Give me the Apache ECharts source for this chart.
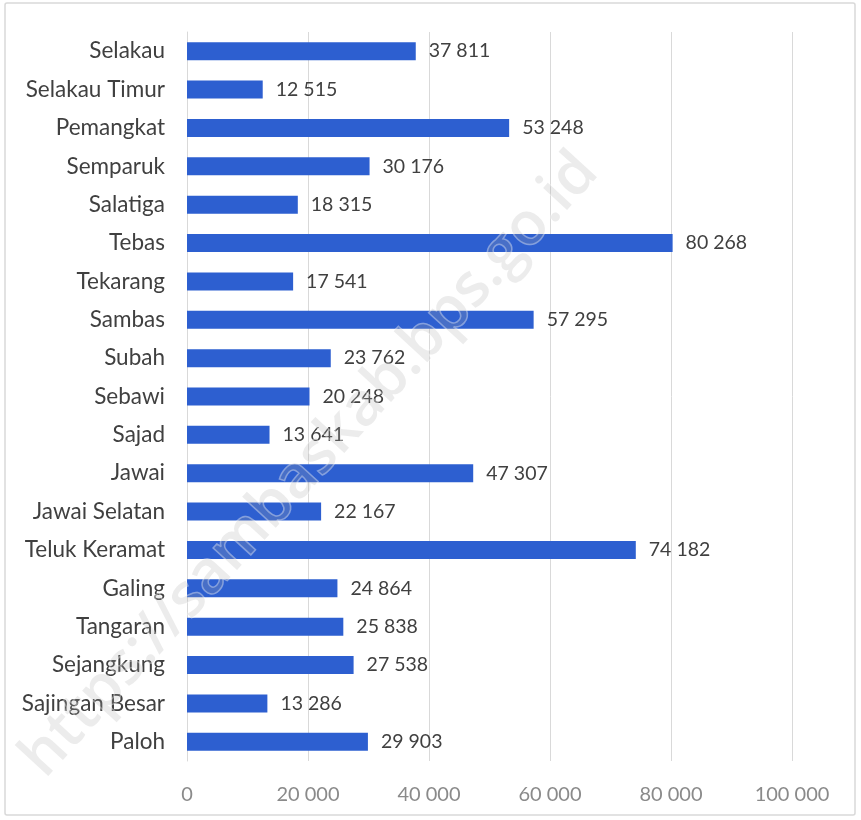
<!DOCTYPE html>
<html>
<head>
<meta charset="utf-8">
<script src="https://cdn.jsdelivr.net/npm/echarts@6/dist/echarts.min.js"></script>
<style>
html,body{margin:0;padding:0;background:#fff;}
#chart{width:861px;height:820px;}
</style>
</head>
<body>
<div id="chart"></div>
<script>
const categories = ["Selakau","Selakau Timur","Pemangkat","Semparuk","Salatiga","Tebas","Tekarang","Sambas","Subah","Sebawi","Sajad","Jawai","Jawai Selatan","Teluk Keramat","Galing","Tangaran","Sejangkung","Sajingan Besar","Paloh"];
const values = [37811,12515,53248,30176,18315,80268,17541,57295,23762,20248,13641,47307,22167,74182,24864,25838,27538,13286,29903];
const tickValues = [0,20000,40000,60000,80000,100000];

function fmt(v){ return String(v).replace(/\B(?=(\d{3})+(?!\d))/g, ' '); }

const chart = echarts.init(document.getElementById('chart'));
const FONT = 'Lato';
chart.setOption({
  backgroundColor: '#fff',
  animation: false,
  graphic: [
    { type: 'rect', z: -10, shape: { x: 5, y: 3, width: 850, height: 812, r: 2 },
      style: { fill: '#fff', stroke: '#d9d9d9', lineWidth: 1.5 } },
    { type: 'text', z: 100, x: 310, y: 465, rotation: Math.PI * 47.5 / 180,
      style: { text: 'https://sambaskab.bps.go.id', fill: 'rgba(170,170,170,0.22)', stroke: 'rgba(255,255,255,0.4)', lineWidth: 1.5,
        font: '600 60px "Open Sans", sans-serif', align: 'center', verticalAlign: 'middle' } }
  ],
  grid: { left: 187, right: 69, top: 32, bottom: 59, containLabel: false },
  xAxis: {
    type: 'value', min: tickValues[0], max: tickValues[tickValues.length - 1], interval: 20000,
    axisLine: { show: false }, axisTick: { show: false },
    splitLine: { show: true, lineStyle: { color: '#d9d9d9', width: 1 } },
    axisLabel: { formatter: fmt, color: '#8a8a8a', fontSize: 20, fontFamily: FONT, margin: 24 }
  },
  yAxis: {
    type: 'category', data: categories, inverse: true,
    axisLine: { show: true, lineStyle: { color: '#d9d9d9' } }, axisTick: { show: false },
    axisLabel: { color: '#404040', fontSize: 22.5, fontFamily: FONT, margin: 22 }
  },
  series: [{
    type: 'bar', data: values, barWidth: 18,
    itemStyle: { color: '#2d5fd0' },
    label: { show: true, position: 'right', distance: 13, formatter: p => fmt(p.value),
      color: '#404040', fontSize: 19.5, fontFamily: FONT }
  }]
});
</script>
</body>
</html>
